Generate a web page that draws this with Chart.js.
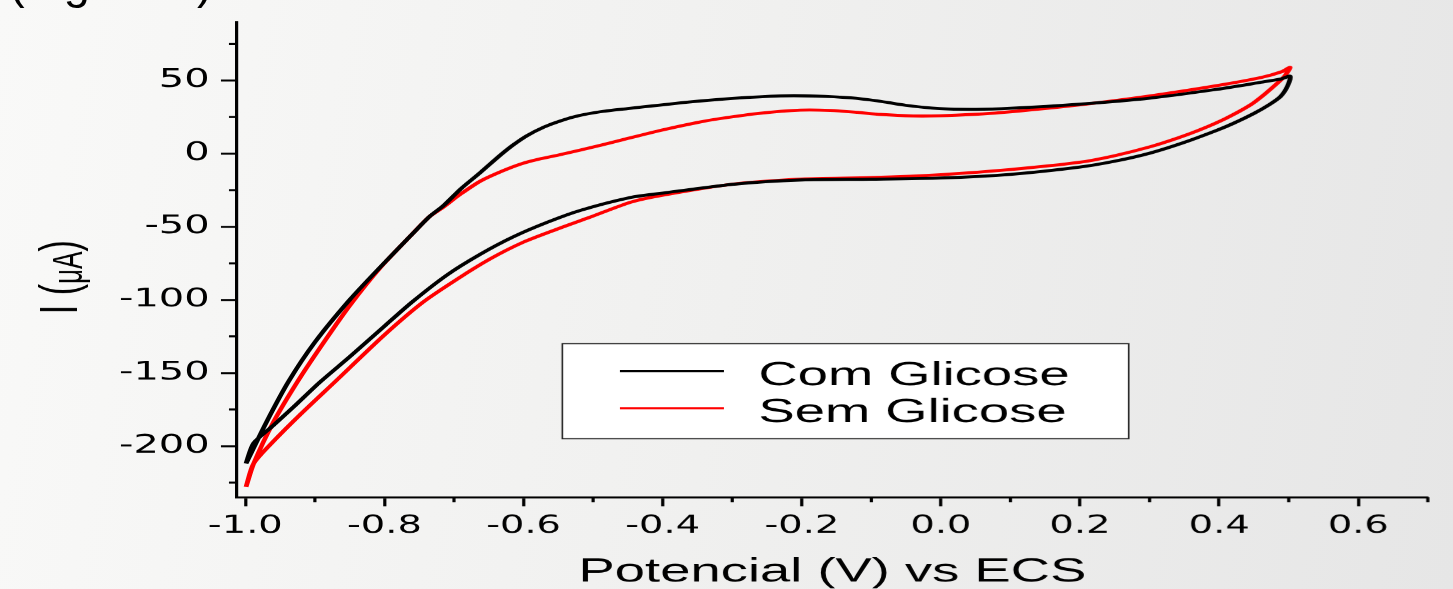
<!DOCTYPE html>
<html>
<head>
<meta charset="utf-8">
<script src="https://cdn.jsdelivr.net/npm/chart.js@4.4.1/dist/chart.umd.min.js"></script>
<style>
html, body { margin: 0; padding: 0; width: 1453px; height: 589px; overflow: hidden; }
body { background: linear-gradient(100deg, #f9f9f8 0%, #f0f0ef 50%, #e6e6e6 100%); position: relative; }
/* the original picture is stretched sideways, so draw narrow and stretch */
#wrap { position: absolute; left: 0; top: 0; width: 908.125px; height: 589px;
        transform: scaleX(1.6); transform-origin: 0 0; }
/* caption cut by the top edge of the picture */
#cap { position: absolute; left: 9px; top: -41.75px; font: 47px/47px 'Liberation Sans', Arial, sans-serif;
       color: #000; white-space: nowrap; }
</style>
</head>
<body>
<div id="wrap"><canvas id="chart"></canvas></div>
<div id="cap">(Figura 1)</div>
<script>
// Com Glicose (black) - V vs ECS and current in uA
const comV = [-0.999, -0.97, -0.938, -0.90, -0.85, -0.806, -0.76, -0.735, -0.715, -0.69, -0.662, -0.633,
  -0.615, -0.595, -0.57, -0.547, -0.52, -0.49, -0.45, -0.402, -0.35, -0.30, -0.231, -0.18, -0.13, -0.09,
  -0.05, -0.002, 0.05, 0.1, 0.198, 0.301, 0.397, 0.46, 0.49, 0.502,
  0.498, 0.488, 0.472, 0.45, 0.42, 0.397, 0.35, 0.301, 0.25, 0.2, 0.1, 0.0, -0.1, -0.2, -0.3, -0.4,
  -0.446, -0.518, -0.566, -0.615, -0.662, -0.71, -0.76, -0.80, -0.85, -0.892, -0.93, -0.96, -0.988, -0.999];
const comI = [-212, -184, -156, -129, -100, -77.6, -55, -43, -35.5, -24, -12.9, -0.9,
  5.9, 12.3, 18.3, 22.4, 26, 28.6, 30.8, 33.3, 35.8, 37.8, 39.5, 39.4, 38.2, 36,
  33, 30.8, 30.3, 31, 33.8, 38, 44, 48.8, 51.2, 53,
  46, 39, 33.5, 27.5, 20.6, 16, 7.7, 0.4, -5.2, -9.2, -14.2, -16.7, -17.5, -18, -21, -27,
  -30, -38.8, -47, -57, -68.8, -83, -101.4, -118, -139, -156, -173, -186, -198, -212];

// Sem Glicose (red)
const semV = [-0.999, -0.988, -0.96, -0.925, -0.89, -0.85, -0.806, -0.76, -0.735, -0.715, -0.70, -0.69,
  -0.662, -0.63, -0.602, -0.575, -0.547, -0.49, -0.45, -0.402, -0.35, -0.317, -0.26, -0.202, -0.159,
  -0.12, -0.087, -0.04, -0.002, 0.05, 0.085, 0.198, 0.301, 0.397, 0.46, 0.49, 0.502,
  0.494, 0.484, 0.465, 0.445, 0.41, 0.373, 0.34, 0.301, 0.25, 0.2, 0.1, 0.0, -0.1, -0.2, -0.3, -0.4,
  -0.446, -0.504, -0.551, -0.6, -0.648, -0.695, -0.744, -0.8, -0.871, -0.92, -0.96, -0.988, -0.999];
const semI = [-228, -212, -184, -156, -131, -104, -78, -55, -43, -36.5, -31, -27.5,
  -18.8, -11.8, -6.8, -3.5, -0.7, 5.6, 10.4, 16, 21.3, 24, 27.6, 29.7, 29.5,
  28.2, 26.8, 25.8, 25.9, 26.9, 28, 33.3, 39.5, 46.5, 52, 56, 59,
  53, 48.3, 40.5, 33.3, 24.2, 16.4, 10.6, 4.7, -1.4, -5.9, -10.9, -14.4, -16.4, -17.4, -20.9, -28.4,
  -33.2, -43.4, -51.5, -60.5, -72, -85.7, -101.4, -124, -156, -178, -197, -212, -228];

const xMinor = [-0.9, -0.7, -0.5, -0.3, -0.1, 0.1, 0.3, 0.5, 0.7];
const yMinor = [-225, -175, -125, -75, -25, 25, 75];

const SANS = "'Liberation Sans', Arial, sans-serif";
const DEJA = "'DejaVu Sans', sans-serif";

const pts = (xs, ys) => xs.map((v, i) => ({ x: v, y: ys[i] }));

// minor ticks, legend box and the y title
const extras = {
  id: 'extras',
  afterDraw(chart) {
    const { ctx, chartArea: a, scales: { x, y } } = chart;
    ctx.save();
    ctx.strokeStyle = '#000';
    ctx.lineWidth = 2;
    ctx.beginPath();
    xMinor.forEach(v => {
      const p = x.getPixelForValue(v);
      ctx.moveTo(p, a.bottom); ctx.lineTo(p, a.bottom + 5);
    });
    yMinor.forEach(v => {
      const p = y.getPixelForValue(v);
      ctx.moveTo(a.left, p); ctx.lineTo(a.left - 5, p);
    });
    ctx.stroke();

    // legend
    ctx.fillStyle = '#fff';
    ctx.fillRect(351.5, 343, 354, 96);
    ctx.lineWidth = 1;
    ctx.strokeStyle = '#222';
    ctx.strokeRect(351.5, 343.5, 354, 95);
    const rows = [371, 408];
    chart.data.datasets.forEach((ds, i) => {
      ctx.strokeStyle = ds.borderColor;
      ctx.lineWidth = 2;
      ctx.beginPath();
      ctx.moveTo(387.5, rows[i]); ctx.lineTo(452.5, rows[i]);
      ctx.stroke();
      ctx.fillStyle = '#000';
      ctx.font = '34px ' + SANS;
      ctx.textBaseline = 'alphabetic';
      ctx.textAlign = 'left';
      ctx.fillText(ds.label, 474, rows[i] + 14);
    });

    // y title: I (µA)
    ctx.translate(48, 314);
    ctx.rotate(-Math.PI / 2);
    ctx.fillStyle = '#000';
    ctx.textBaseline = 'alphabetic';
    let cx = 0;
    const part = (t, size, dy) => {
      ctx.font = size + 'px ' + SANS;
      ctx.fillText(t, cx, dy);
      cx += ctx.measureText(t).width;
    };
    part('I (', 34, 0);
    part('μA', 26, 3);
    part(')', 34, 0);
    ctx.restore();
  }
};

new Chart(document.getElementById('chart'), {
  type: 'scatter',
  data: {
    datasets: [
      { label: 'Com Glicose', data: pts(comV, comI), borderColor: '#000000', borderWidth: 3,
        showLine: true, pointRadius: 0, tension: 0.25, fill: false },
      { label: 'Sem Glicose', data: pts(semV, semI), borderColor: '#ff0000', borderWidth: 3,
        showLine: true, pointRadius: 0, tension: 0.25, fill: false }
    ]
  },
  options: {
    responsive: true,
    maintainAspectRatio: false,
    animation: false,
    devicePixelRatio: 1.6,
    layout: { padding: { left: 0, right: 15.6, top: 19, bottom: 0 } },
    plugins: { legend: { display: false }, tooltip: { enabled: false } },
    scales: {
      x: {
        type: 'linear',
        min: -1.012,
        max: 0.7,
        border: { color: '#000', width: 2 },
        grid: { drawOnChartArea: false, tickLength: 9, tickWidth: 2, tickColor: '#000' },
        ticks: {
          stepSize: 0.2,
          includeBounds: false,
          padding: 6,
          color: '#000',
          font: { family: DEJA, size: 24 },
          callback: v => (Math.abs(v) < 1e-9 ? 0 : v).toFixed(1)
        },
        title: {
          display: true,
          text: 'Potencial (V) vs ECS',
          color: '#000',
          font: { family: SANS, size: 34, lineHeight: 1 },
          padding: { top: 0, bottom: 0 }
        },
        afterFit: s => { s.height = 92; }
      },
      y: {
        type: 'linear',
        min: -235,
        max: 90,
        border: { color: '#000', width: 2 },
        grid: { drawOnChartArea: false, tickLength: 10, tickWidth: 2, tickColor: '#000' },
        ticks: {
          stepSize: 50,
          includeBounds: false,
          padding: 7,
          color: '#000',
          font: { family: DEJA, size: 25 }
        },
        afterFit: s => { s.width = 148.1; }
      }
    }
  },
  plugins: [extras]
});
</script>
</body>
</html>
